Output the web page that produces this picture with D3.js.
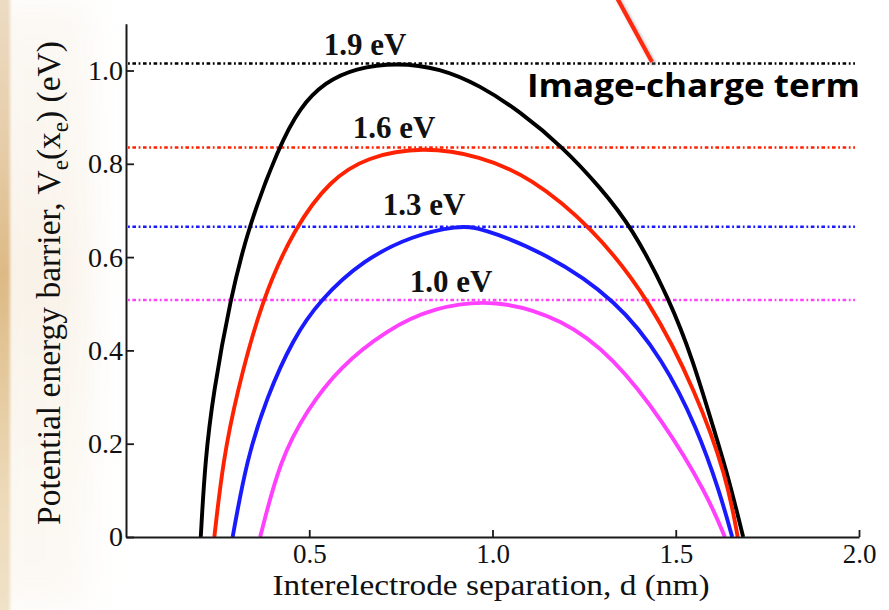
<!DOCTYPE html>
<html>
<head>
<meta charset="utf-8">
<script src="https://cdn.jsdelivr.net/npm/d3@7"></script>
<style>
  html, body { margin: 0; padding: 0; background: #fff; }
  svg { display: block; }
</style>
</head>
<body>
<div id="chart"></div>
<script>
// Work-function labels for each curve
const workFunctions = ["1.9 eV", "1.6 eV", "1.3 eV", "1.0 eV"];
const seriesColors = ["#000000", "#ff2200", "#1a1aff", "#ff40ff"];

// Peak barrier height of each curve (dotted reference lines)
const barrierPeaks = [1.015, 0.835, 0.665, 0.508];

// Barrier V_e(x_e) in eV against interelectrode separation d in nm
const phi19 = [
  [0.204, 0], [0.216, 0.165], [0.238, 0.308], [0.284, 0.508], [0.334, 0.665],
  [0.416, 0.835], [0.475, 0.922], [0.543, 0.975], [0.625, 1.005], [0.739, 1.017],
  [0.857, 1.005], [0.966, 0.968], [1.075, 0.912], [1.193, 0.835], [1.293, 0.750],
  [1.380, 0.665], [1.484, 0.508], [1.547, 0.379], [1.602, 0.236], [1.643, 0.130],
  [1.684, 0]
];
const phi16 = [
  [0.241, 0], [0.265, 0.165], [0.302, 0.308], [0.370, 0.508], [0.461, 0.665],
  [0.557, 0.765], [0.657, 0.815], [0.810, 0.837], [0.966, 0.817], [1.102, 0.772],
  [1.271, 0.665], [1.430, 0.508], [1.557, 0.308], [1.639, 0.129], [1.669, 0]
];
const phi13 = [
  [0.291, 0], [0.329, 0.165], [0.384, 0.300], [0.456, 0.425], [0.529, 0.508],
  [0.647, 0.594], [0.784, 0.647], [0.906, 0.667], [0.966, 0.664], [1.148, 0.608],
  [1.339, 0.508], [1.466, 0.379], [1.557, 0.236], [1.621, 0.094], [1.654, 0]
];
const phi10 = [
  [0.366, 0], [0.420, 0.165], [0.493, 0.272], [0.584, 0.365], [0.711, 0.444],
  [0.838, 0.492], [1.007, 0.511], [1.193, 0.467], [1.330, 0.385], [1.466, 0.248],
  [1.584, 0.094], [1.634, 0]
];
const curves = [phi19, phi16, phi13, phi10];

// Axis ticks
const xTicks = [0.5, 1.0, 1.5, 2.0];
const xTickLabels = ["0.5", "1.0", "1.5", "2.0"];
const yTicks = [0, 0.2, 0.4, 0.6, 0.8, 1.0];
const yTickLabels = ["0", "0.2", "0.4", "0.6", "0.8", "1.0"];

const W = 889, H = 610;
const svg = d3.select("#chart").append("svg").attr("width", W).attr("height", H);
const defs = svg.append("defs");

// Soft photo strip down the left edge
const grad = defs.append("linearGradient").attr("id", "strip").attr("x1", 0).attr("y1", 0).attr("x2", 0).attr("y2", 1);
[["0%", "#ecdcc4"], ["25%", "#e6cca8"], ["45%", "#ddb985"], ["60%", "#e3c79a"], ["80%", "#ecd9b8"], ["100%", "#f0e2c8"]]
  .forEach(([o, c]) => grad.append("stop").attr("offset", o).attr("stop-color", c));
defs.append("filter").attr("id", "soft").attr("x", "-50%").attr("width", "200%")
  .append("feGaussianBlur").attr("stdDeviation", 1.5);
defs.append("filter").attr("id", "haze").attr("x", "-50%").attr("width", "200%")
  .append("feGaussianBlur").attr("stdDeviation", 18);
const shadow = defs.append("filter").attr("id", "shadow").attr("x", "-50%").attr("y", "-50%").attr("width", "200%").attr("height", "200%");
shadow.append("feDropShadow").attr("dx", 2).attr("dy", 2).attr("stdDeviation", 1.5).attr("flood-color", "#888").attr("flood-opacity", 0.6);

svg.append("rect").attr("x", -20).attr("y", 0).attr("width", 110).attr("height", H)
  .attr("fill", "url(#strip)").attr("opacity", 0.18).attr("filter", "url(#haze)");
svg.append("rect").attr("x", -5).attr("y", -5).attr("width", 15).attr("height", H + 10)
  .attr("fill", "url(#strip)").attr("filter", "url(#soft)");

const x = d3.scaleLinear().domain([0, 2]).range([126, 859]);
const y = d3.scaleLinear().domain([0, 1.1]).range([537, 23.85]);

const serif = "'Liberation Serif', 'Times New Roman', serif";

// Dotted barrier-height lines
barrierPeaks.forEach((v, i) => {
  svg.append("line")
    .attr("x1", x(0) + 2).attr("x2", 855)
    .attr("y1", y(v)).attr("y2", y(v))
    .attr("stroke", seriesColors[i]).attr("stroke-width", 2.5)
    .attr("stroke-dasharray", "1.8,2.6,3.6,2.6");
});

// Barrier curves (smooth B-spline through the sampled values)
const line = d3.line().x(d => x(d[0])).y(d => y(d[1])).curve(d3.curveBasis);
curves.forEach((pts, i) => {
  svg.append("path").datum(pts).attr("d", line)
    .attr("fill", "none").attr("stroke", seriesColors[i]).attr("stroke-width", 3.9)
    .attr("stroke-linejoin", "round");
});

// Axes: left and bottom only, ticks pointing inward
const xAxis = d3.axisBottom(x).tickValues(xTicks).tickSizeInner(-7).tickSizeOuter(0)
  .tickFormat((d, i) => xTickLabels[i]);
const gx = svg.append("g").attr("transform", `translate(0,${y(0)})`).call(xAxis);
gx.select(".domain").attr("stroke", "#1a1a1a").attr("stroke-width", 2);
gx.selectAll(".tick line").attr("stroke", "#1a1a1a").attr("stroke-width", 1.8);
gx.selectAll(".tick text").attr("font-family", serif).attr("font-size", 27).attr("fill", "#111")
  .attr("dy", 0).attr("y", 26);

const yAxis = d3.axisLeft(y).tickValues(yTicks).tickSizeInner(-8).tickSizeOuter(0)
  .tickFormat((d, i) => yTickLabels[i]);
const gy = svg.append("g").attr("transform", `translate(${x(0)},0)`).call(yAxis);
gy.select(".domain").attr("stroke", "#1a1a1a").attr("stroke-width", 2);
gy.selectAll(".tick line").attr("stroke", "#1a1a1a").attr("stroke-width", 1.8);
gy.selectAll(".tick text").attr("font-family", serif).attr("font-size", 28).attr("fill", "#111")
  .attr("x", -3);

// Curve labels
const labelPos = [[365, 55], [394, 138], [424, 215], [451, 292]];
workFunctions.forEach((t, i) => {
  svg.append("text").attr("x", labelPos[i][0]).attr("y", labelPos[i][1])
    .attr("text-anchor", "middle").attr("font-family", serif).attr("font-weight", "bold")
    .attr("font-size", 31).attr("fill", "#111").text(t);
});

// Axis titles
svg.append("text").attr("x", 491).attr("y", 595).attr("text-anchor", "middle")
  .attr("font-family", serif).attr("font-size", 29).attr("fill", "#111")
  .attr("textLength", 437).attr("lengthAdjust", "spacingAndGlyphs")
  .text("Interelectrode separation, d (nm)");

const yl = svg.append("text").attr("transform", "translate(60,283) rotate(-90)")
  .attr("text-anchor", "middle").attr("font-family", serif).attr("font-size", 33.5).attr("fill", "#111");
yl.append("tspan").text("Potential energy barrier, V");
yl.append("tspan").attr("font-size", 23).attr("dy", 8).text("e");
yl.append("tspan").attr("dy", -8).text("(x");
yl.append("tspan").attr("font-size", 23).attr("dy", 8).text("e");
yl.append("tspan").attr("dy", -8).text(") (eV)");

// Callout
svg.append("line").attr("x1", 616).attr("y1", -4).attr("x2", 652).attr("y2", 62)
  .attr("stroke", "#ff2a0a").attr("stroke-width", 4.2).attr("filter", "url(#shadow)");
svg.append("text").attr("x", 527).attr("y", 97)
  .attr("font-family", "'Open Sans', 'Noto Sans', sans-serif").attr("font-weight", 700)
  .attr("font-size", 32).attr("fill", "#000")
  .attr("textLength", 333).attr("lengthAdjust", "spacingAndGlyphs")
  .text("Image-charge term");
</script>
</body>
</html>
